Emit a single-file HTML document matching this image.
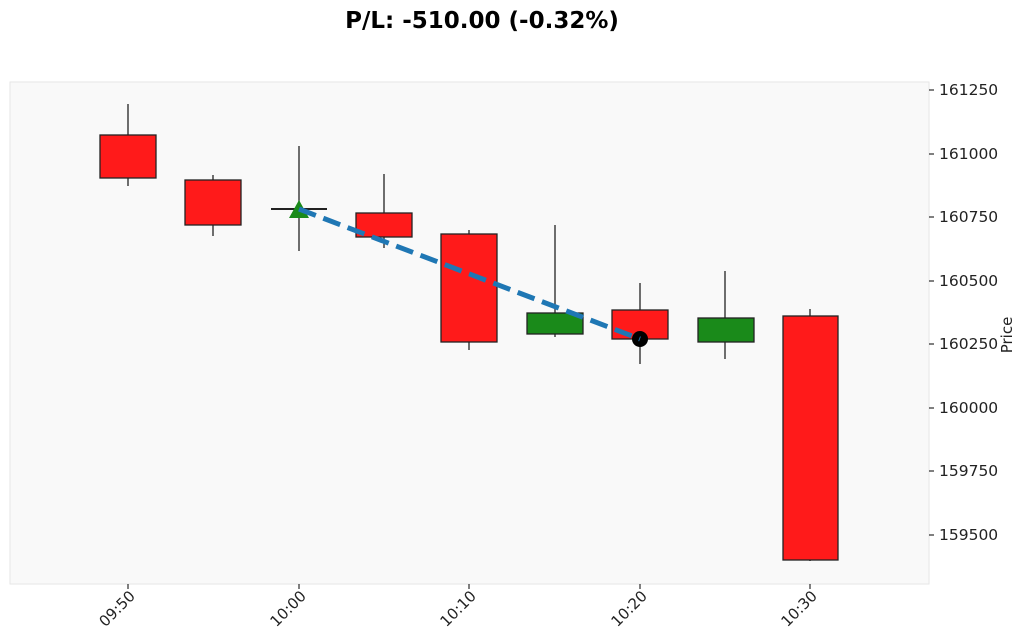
<!DOCTYPE html>
<html><head><style>body{margin:0;background:#fff}svg{display:block;font-family:"DejaVu Sans","Liberation Sans",sans-serif}</style></head>
<body>
<svg width="1024" height="644" viewBox="0 0 1024 644">
<text x="482" y="28" text-anchor="middle" font-size="23" font-weight="bold" fill="#000">P/L: -510.00 (-0.32%)</text>
<rect x="10" y="82" width="919" height="502" fill="#f9f9f9" stroke="#e6e6e6"/>
<g stroke="#222" stroke-width="1.3">
<line x1="128" y1="104" x2="128" y2="186"/>
<line x1="213" y1="175" x2="213" y2="236"/>
<line x1="299" y1="146" x2="299" y2="251"/>
<line x1="384" y1="174" x2="384" y2="248"/>
<line x1="469" y1="230" x2="469" y2="350"/>
<line x1="555" y1="225" x2="555" y2="337"/>
<line x1="640" y1="283" x2="640" y2="364"/>
<line x1="725" y1="271" x2="725" y2="359"/>
<line x1="810" y1="309" x2="810" y2="561"/>
</g>
<g stroke="#222" stroke-width="1.3">
<rect x="100" y="135" width="56" height="43" fill="#ff1a1a"/>
<rect x="185" y="180" width="56" height="45" fill="#ff1a1a"/>
<line x1="271" y1="209" x2="327" y2="209" stroke-width="2"/>
<rect x="356" y="213" width="56" height="24" fill="#ff1a1a"/>
<rect x="441" y="234" width="56" height="108" fill="#ff1a1a"/>
<rect x="527" y="313" width="56" height="21" fill="#1a8a1a"/>
<rect x="612" y="310" width="56" height="29" fill="#ff1a1a"/>
<rect x="698" y="318" width="56" height="24" fill="#1a8a1a"/>
<rect x="783" y="316" width="55" height="244" fill="#ff1a1a"/>
</g>
<polygon points="299,200 309,218 289,218" fill="#1a8a1a"/>
<circle cx="640" cy="339" r="8" fill="#000"/>
<line x1="299" y1="209" x2="640" y2="339" stroke="#1f77b4" stroke-width="5" stroke-dasharray="18,8"/>
<g stroke="#000" stroke-width="1">
<line x1="929" y1="90" x2="934" y2="90"/><line x1="929" y1="154" x2="934" y2="154"/><line x1="929" y1="217" x2="934" y2="217"/><line x1="929" y1="281" x2="934" y2="281"/><line x1="929" y1="344" x2="934" y2="344"/><line x1="929" y1="408" x2="934" y2="408"/><line x1="929" y1="471" x2="934" y2="471"/><line x1="929" y1="535" x2="934" y2="535"/>
<line x1="128" y1="584" x2="128" y2="589"/><line x1="299" y1="584" x2="299" y2="589"/><line x1="469" y1="584" x2="469" y2="589"/><line x1="640" y1="584" x2="640" y2="589"/><line x1="810" y1="584" x2="810" y2="589"/>
</g>
<g font-size="15.5" fill="#222">
<text x="939" y="95">161250</text><text x="939" y="159">161000</text><text x="939" y="222">160750</text><text x="939" y="286">160500</text><text x="939" y="349">160250</text><text x="939" y="413">160000</text><text x="939" y="476">159750</text><text x="939" y="540">159500</text>
</g>
<text transform="translate(1012,335) rotate(-90)" text-anchor="middle" font-size="15" fill="#222">Price</text>
<g font-size="15" fill="#222" text-anchor="end">
<text transform="translate(136,597) rotate(-45)">09:50</text>
<text transform="translate(307,597) rotate(-45)">10:00</text>
<text transform="translate(477,597) rotate(-45)">10:10</text>
<text transform="translate(648,597) rotate(-45)">10:20</text>
<text transform="translate(818,597) rotate(-45)">10:30</text>
</g>
</svg>
</body></html>
